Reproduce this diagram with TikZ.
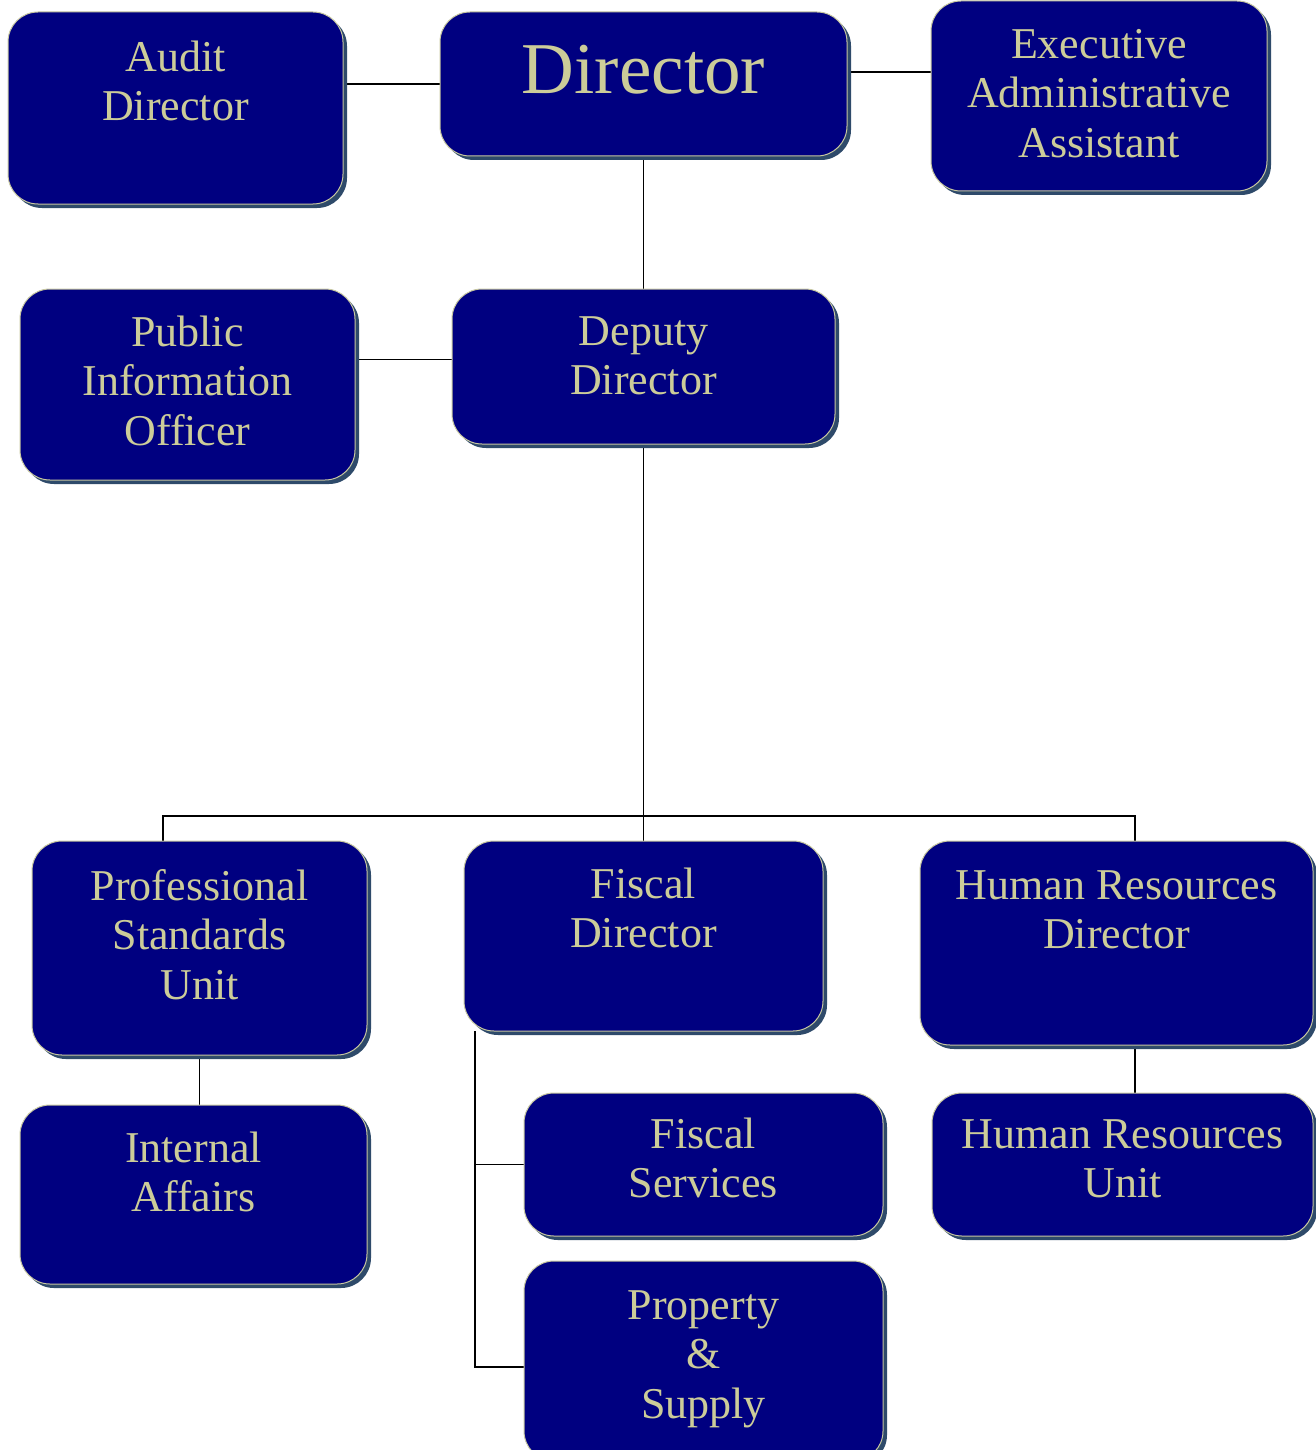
\documentclass[tikz,border=0pt]{standalone}
\usepackage{fontspec}
\setmainfont{Liberation Serif}
\usetikzlibrary{shadows,backgrounds,calc}
\definecolor{boxfill}{RGB}{0,0,128}
\definecolor{boxtext}{RGB}{204,204,153}
\definecolor{boxedge}{RGB}{200,200,160}
\definecolor{boxshadow}{RGB}{46,74,106}
\tikzset{
  orgbox/.style={rectangle, rounded corners=30pt, fill=boxfill, draw=boxedge,
    line width=1pt, inner sep=0pt, outer sep=0pt,
    drop shadow={shadow xshift=4pt, shadow yshift=-4pt, fill=boxshadow, opacity=1}},
  orgtext/.style={anchor=north, align=center, text=boxtext, inner sep=0pt,
    font=\fontsize{44}{49.5}\selectfont},
  bigtext/.style={anchor=base, text=boxtext, inner sep=0pt,
    font=\fontsize{73}{80}\selectfont},
  conn/.style={draw=black, line width=1.6pt}
}
\newcommand{\fs}{\rule{0pt}{31pt}}
\begin{document}
\begin{tikzpicture}[x=1pt,y=-1pt]
\useasboundingbox (0,0) rectangle (1315,1450);
% boxes
\node[orgbox, minimum width=335pt, minimum height=192pt] (aud) at (175.5,108) {};
\node[orgbox, minimum width=407pt, minimum height=144pt] (dir) at (643.5,84) {};
\node[orgbox, minimum width=336pt, minimum height=190pt] (exe) at (1099,96) {};
\node[orgbox, minimum width=335pt, minimum height=191pt] (pio) at (187.5,384.5) {};
\node[orgbox, minimum width=383pt, minimum height=155pt] (dep) at (643.5,366.5) {};
\node[orgbox, minimum width=335pt, minimum height=214pt] (psu) at (199.5,948) {};
\node[orgbox, minimum width=359pt, minimum height=190pt] (fis) at (643.5,936) {};
\node[orgbox, minimum width=393pt, minimum height=204pt] (hrd) at (1116.5,943) {};
\node[orgbox, minimum width=347pt, minimum height=179pt] (ia) at (193.5,1194.5) {};
\node[orgbox, minimum width=359pt, minimum height=143pt] (fsv) at (703.5,1164.5) {};
\node[orgbox, minimum width=381pt, minimum height=143pt] (hru) at (1122.5,1164.5) {};
\node[orgbox, minimum width=359pt, minimum height=200pt] (ps) at (703.5,1361) {};
% texts
\node[orgtext] (audT) at ([yshift=-28pt]aud.north) {\fs Audit\\Director};
\node[bigtext] (dirT) at ([yshift=-82pt]dir.north) {Director};
\node[orgtext] (exeT) at ([yshift=-26pt]exe.north) {\fs Executive\\Administrative\\Assistant};
\node[orgtext] (pioT) at ([yshift=-26pt]pio.north) {\fs Public\\Information\\Officer};
\node[orgtext] (depT) at ([yshift=-25pt]dep.north) {\fs Deputy\\Director};
\node[orgtext] (psuT) at ([yshift=-28pt]psu.north) {\fs Professional\\Standards\\Unit};
\node[orgtext] (fisT) at ([yshift=-26pt]fis.north) {\fs Fiscal\\Director};
\node[orgtext] (hrdT) at ([yshift=-27pt]hrd.north) {\fs Human Resources\\Director};
\node[orgtext] (iaT) at ([yshift=-26pt]ia.north) {\fs Internal\\Affairs};
\node[orgtext] (fsvT) at ([yshift=-24pt]fsv.north) {\fs Fiscal\\Services};
\node[orgtext] (hruT) at ([yshift=-24pt]hru.north) {\fs Human Resources\\Unit};
\node[orgtext] (psT) at ([yshift=-27pt]ps.north) {\fs Property\\\&\\Supply};
% connectors
\begin{pgfonlayer}{background}
\coordinate (bus) at (643.5,816);
\coordinate (fb) at ([xshift=11pt]fis.south west);
\coordinate (psw) at ([yshift=-6pt]ps.west);
\coordinate (dire) at ([yshift=12pt]dir.east);
\coordinate (depw) at ([yshift=7pt]dep.west);
\coordinate (psun) at ([xshift=-36.5pt]psu.north);
\coordinate (hrdn) at ([xshift=18.5pt]hrd.north);
\coordinate (hrds) at ([xshift=18.5pt]hrd.south);
\draw[conn] (dir.west) -- (dir.west -| aud.east);
\draw[conn] (dire) -- (dire -| exe.west);
\draw[conn] (dir.south) -- (dep.north);
\draw[conn] (depw) -- (depw -| pio.east);
\draw[conn] (dep.south) -- (fis.north);
\draw[conn] (psun) -- (psun |- bus) -- (hrdn |- bus) -- (hrdn);
\draw[conn] (psu.south) -- (psu.south |- ia.north);
\draw[conn] (fb) -- (fb |- psw) -- (psw);
\draw[conn] (fb |- fsv.west) -- (fsv.west);
\draw[conn] (hrds) -- (hrds |- hru.north);
\end{pgfonlayer}
\end{tikzpicture}
\end{document}
